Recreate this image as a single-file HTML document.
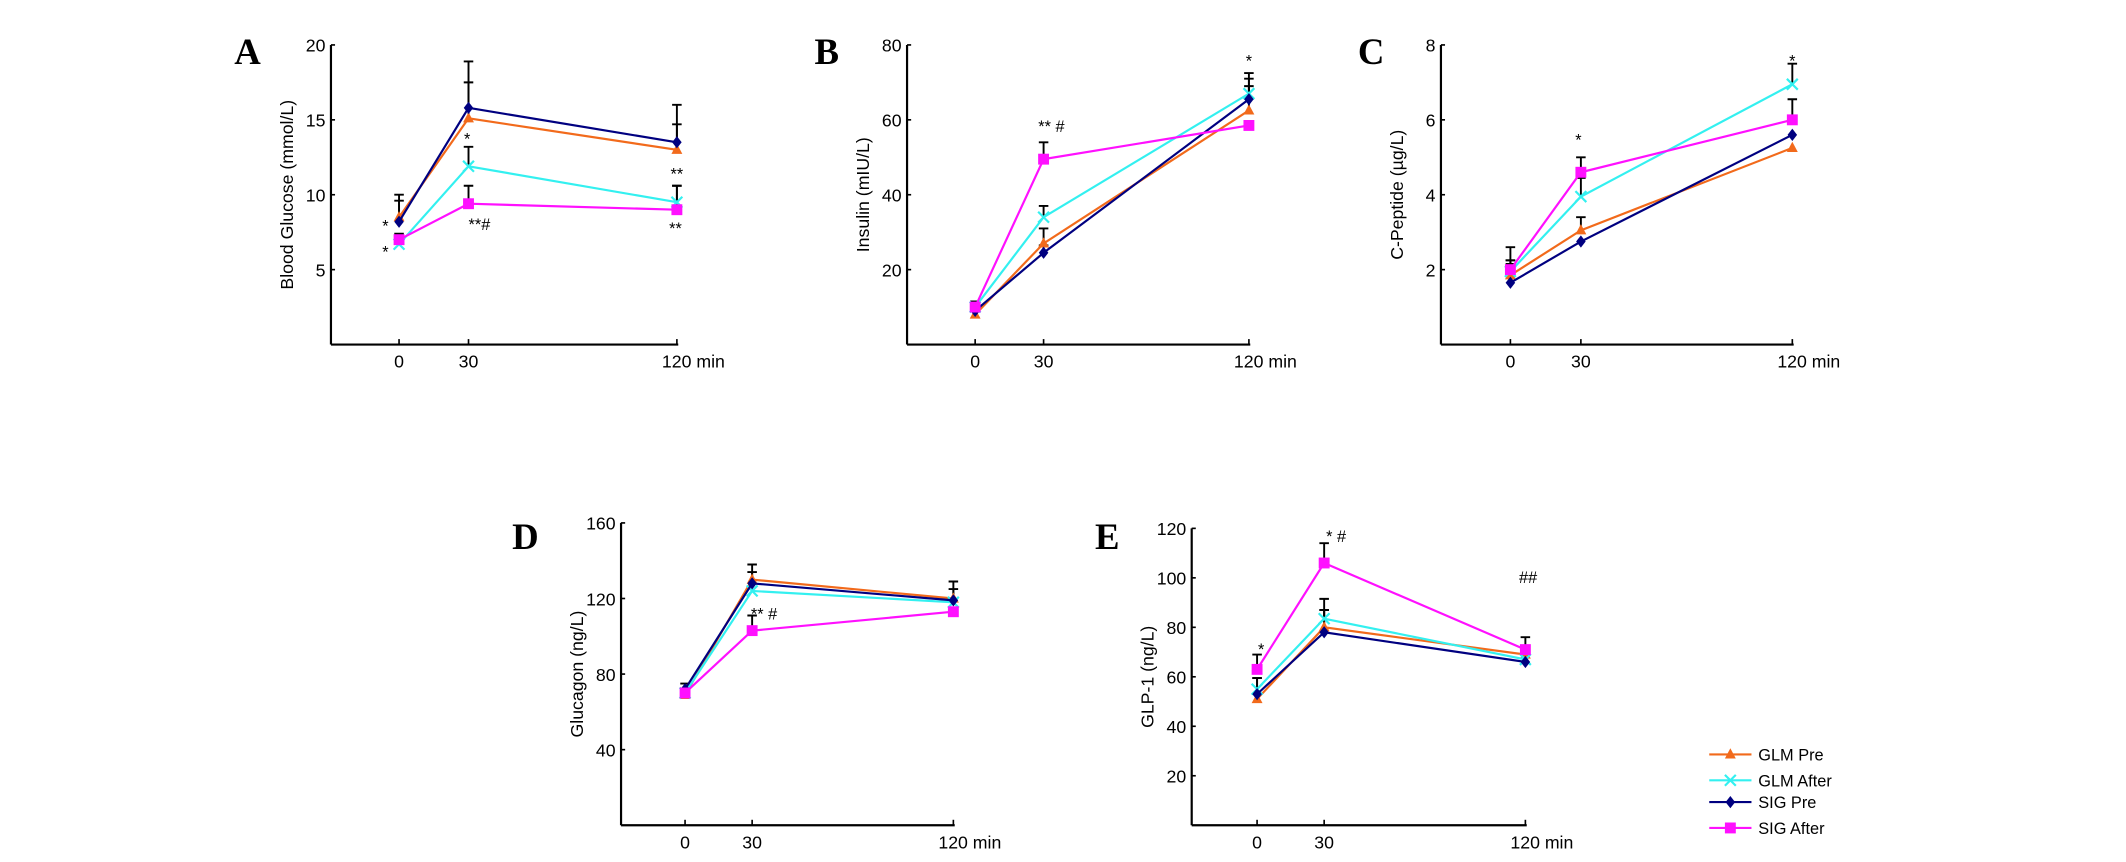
<!DOCTYPE html>
<html><head><meta charset="utf-8"><style>
html,body{margin:0;padding:0;background:#fff;}
svg{display:block;}
text{font-family:"Liberation Sans",sans-serif;}
text.letter{font-family:"Liberation Serif",serif;font-weight:bold;}
</style></head><body>
<svg id="fig" width="2126" height="862" viewBox="0 0 1561 633" preserveAspectRatio="none" xmlns="http://www.w3.org/2000/svg"></svg>
<script>
const timeLabels = ["0","30","120"];
const timeValues = [0, 30, 120];
const seriesNames = ["GLM Pre","GLM After","SIG Pre","SIG After"];
const seriesColors = ["#f26a1b","#33f0f0","#000080","#ff10ff"];

// Panel A: Blood glucose
const glucoseGlmPre = [8.5, 15.1, 13.0];
const glucoseGlmAfter = [6.7, 11.9, 9.5];
const glucoseSigPre = [8.2, 15.8, 13.5];
const glucoseSigAfter = [7.0, 9.4, 9.0];
const glucoseErr = [[1.1, 2.4, 1.7],[0.3, 1.3, 1.1],[1.8, 3.1, 2.5],[0.4, 1.2, 1.6]];
const glucoseTicks = [5, 10, 15, 20];

// Panel B: Insulin
const insulinGlmPre = [8, 27, 62.5];
const insulinGlmAfter = [10, 34, 67];
const insulinSigPre = [9, 24.5, 65.5];
const insulinSigAfter = [10, 49.5, 58.5];
const insulinErr = [[1.5, 4, 6.5],[1.5, 3, 4],[2.5, 2, 7],[1.5, 4.5, 0]];
const insulinTicks = [20, 40, 60, 80];

// Panel C: C-peptide
const cpepGlmPre = [1.85, 3.05, 5.25];
const cpepGlmAfter = [1.95, 3.95, 6.95];
const cpepSigPre = [1.65, 2.75, 5.6];
const cpepSigAfter = [2.0, 4.6, 6.0];
const cpepErr = [[0.3, 0.35, 0],[0.65, 0.5, 0.55],[0.6, 0, 0],[0.25, 0.4, 0.55]];
const cpepTicks = [2, 4, 6, 8];

// Panel D: Glucagon
const glucagonGlmPre = [69, 130, 120];
const glucagonGlmAfter = [70, 124, 118];
const glucagonSigPre = [72, 128, 119];
const glucagonSigAfter = [70, 103, 113];
const glucagonErr = [[0, 8, 9],[0, 0, 7],[3, 6, 0],[0, 8, 0]];
const glucagonTicks = [40, 80, 120, 160];

// Panel E: GLP-1
const glpGlmPre = [51, 80, 69];
const glpGlmAfter = [55, 83.5, 67];
const glpSigPre = [53, 78, 66];
const glpSigAfter = [63, 106, 71];
const glpErr = [[0, 7, 0],[4.5, 8, 5],[6.5, 9, 0],[6, 8, 5]];
const glpTicks = [20, 40, 60, 80, 100, 120];

const NS = "http://www.w3.org/2000/svg";
const svg = document.getElementById("fig");
function mk(tag, attrs, parent){
  const e = document.createElementNS(NS, tag);
  for (const k in attrs) e.setAttribute(k, attrs[k]);
  (parent||svg).appendChild(e);
  return e;
}
function marker(g, type, x, y, color){
  let m;
  if (type===0){ m = mk("polygon",{points:`${x},${y-4.5} ${x-4},${y+3} ${x+4},${y+3}`,fill:color},g); }
  else if (type===1){ m = mk("path",{d:`M${x-4},${y-4}L${x+4},${y+4}M${x-4},${y+4}L${x+4},${y-4}`,stroke:color,"stroke-width":1.6,fill:"none"},g); }
  else if (type===2){ m = mk("polygon",{points:`${x},${y-4.5} ${x+3.5},${y} ${x},${y+4.5} ${x-3.5},${y}`,fill:color},g); }
  else { m = mk("rect",{x:x-4,y:y-4,width:8,height:8,fill:color},g); }
  return m;
}

function panel(p){
  const g = mk("g",{});
  
  
  const yS = v => p.y0 - (v/p.ymax)*(p.y0-p.ytop);
  const tmax = timeValues[timeValues.length-1];
  const xS = t => p.x0 + (t/tmax)*(p.x120-p.x0);
  const L = mk("text",{x:p.lx,y:p.ly,"class":"letter","font-size":27},g);
  L.textContent = p.letter;
  
  
  const ya = mk("line",{x1:p.ax,y1:p.ytop,x2:p.ax,y2:p.y0,stroke:"#000","stroke-width":1.6},g);
  
  
  const xa = mk("line",{x1:p.ax,y1:p.y0,x2:p.x120+1,y2:p.y0,stroke:"#000","stroke-width":1.6},g);
  
  
  p.ticks.forEach(v=>{
    const y = yS(v);
    mk("line",{x1:p.ax,y1:y,x2:p.ax+3,y2:y,stroke:"#000","stroke-width":1.2},g);
    const t = mk("text",{x:p.ax-4,y:y+5,"text-anchor":"end","font-size":13},g);
    t.textContent = v;
    
    
  });
  timeValues.forEach((tv,i)=>{
    const x = xS(tv);
    mk("line",{x1:x,y1:p.y0,x2:x,y2:p.y0-4,stroke:"#000","stroke-width":1.2},g);
    const last = i===timeValues.length-1;
    const t = mk("text",{x:last?x-11:x,y:p.y0+17,"text-anchor":last?"start":"middle","font-size":13},g);
    t.textContent = last ? timeLabels[i]+" min" : timeLabels[i];
    
    
  });
  const yt = mk("text",{x:0,y:0,"text-anchor":"middle","font-size":13,transform:`translate(${p.ax-28},${(p.ytop+p.y0)/2}) rotate(-90)`},g);
  yt.textContent = p.ytitle;
  
  
  p.series.forEach((s,si)=>{
    s.forEach((v,i)=>{
      const e = p.err[si][i];
      if (!e) return;
      const x = xS(timeValues[i]);
      const eb = mk("path",{d:`M${x},${yS(v)}L${x},${yS(v+e)}M${x-3.5},${yS(v+e)}L${x+3.5},${yS(v+e)}`,stroke:"#000","stroke-width":1.4,fill:"none"},g);
      
      
    });
  });
  p.series.forEach((s,si)=>{
    const pts = s.map((v,i)=>`${xS(timeValues[i])},${yS(v)}`).join(" ");
    const pl = mk("polyline",{points:pts,fill:"none",stroke:seriesColors[si],"stroke-width":1.6},g);
    
    
    s.forEach((v,i)=>{
      const m = marker(g, si, xS(timeValues[i]), yS(v), seriesColors[si]);
      
      
    });
  });
  p.annots.forEach(a=>{
    const t = mk("text",{x:a[0],y:a[1],"text-anchor":"middle","font-size":12},g);
    t.textContent = a[2];
    
    
  });
}

panel({name:"panel-a-blood-glucose",letter:"A",lx:172,ly:47,ax:243,x0:293,x120:497,ytop:33,y0:253,ymax:20,ticks:glucoseTicks,ytitle:"Blood Glucose (mmol/L)",
  series:[glucoseGlmPre,glucoseGlmAfter,glucoseSigPre,glucoseSigAfter],err:glucoseErr,
  annots:[[283,170,"*"],[283,189,"*"],[343,106,"*"],[352,169,"**#"],[497,132,"**"],[496,172,"**"]]});
panel({name:"panel-b-insulin",letter:"B",lx:598,ly:47,ax:666,x0:716,x120:917,ytop:33,y0:253,ymax:80,ticks:insulinTicks,ytitle:"Insulin (mIU/L)",
  series:[insulinGlmPre,insulinGlmAfter,insulinSigPre,insulinSigAfter],err:insulinErr,
  annots:[[772,97,"** #"],[917,49,"*"]]});
panel({name:"panel-c-c-peptide",letter:"C",lx:997,ly:47,ax:1058,x0:1109,x120:1316,ytop:33,y0:253,ymax:8,ticks:cpepTicks,ytitle:"C-Peptide (µg/L)",
  series:[cpepGlmPre,cpepGlmAfter,cpepSigPre,cpepSigAfter],err:cpepErr,
  annots:[[1159,107,"*"],[1316,49,"*"]]});
panel({name:"panel-d-glucagon",letter:"D",lx:376,ly:403,ax:456,x0:503,x120:700,ytop:384,y0:606,ymax:160,ticks:glucagonTicks,ytitle:"Glucagon (ng/L)",
  series:[glucagonGlmPre,glucagonGlmAfter,glucagonSigPre,glucagonSigAfter],err:glucagonErr,
  annots:[[561,455,"** #"]]});
panel({name:"panel-e-glp1",letter:"E",lx:804,ly:403,ax:875,x0:923,x120:1120,ytop:388,y0:606,ymax:120,ticks:glpTicks,ytitle:"GLP-1 (ng/L)",
  series:[glpGlmPre,glpGlmAfter,glpSigPre,glpSigAfter],err:glpErr,
  annots:[[926,481,"*"],[981,398,"* #"],[1122,428,"##"]]});

const lg = mk("g",{});


const legY = [554, 573, 589, 608];
seriesNames.forEach((n,i)=>{
  const e = mk("g",{},lg);
  
  
  mk("line",{x1:1255,y1:legY[i],x2:1286,y2:legY[i],stroke:seriesColors[i],"stroke-width":1.6},e);
  marker(e, i, 1270.5, legY[i], seriesColors[i]);
  const t = mk("text",{x:1291,y:legY[i]+4.5,"font-size":12},e);
  t.textContent = n;
});
</script>
</body></html>
